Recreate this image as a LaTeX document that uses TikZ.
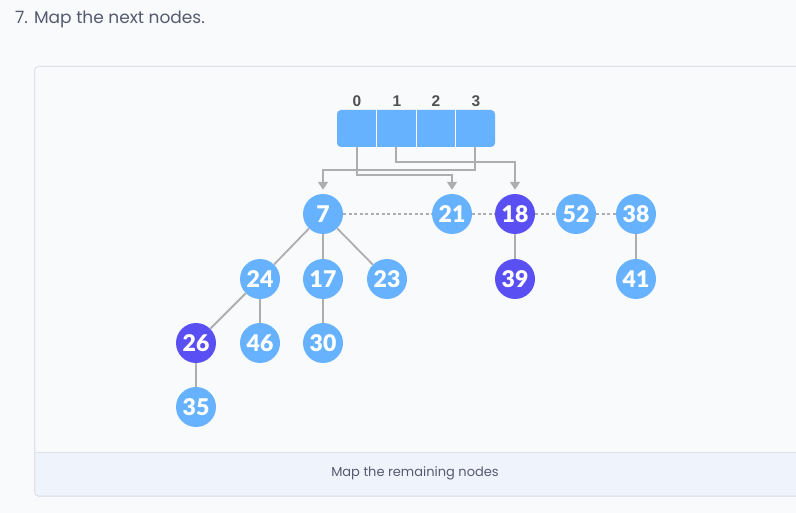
\documentclass[tikz,border=0pt]{standalone}
\usepackage{fontspec}
\setmainfont{Lato}
\newfontfamily\numfont{Lato Black}
\newfontfamily\uifont{Poppins}
\newfontfamily\arrfont{Liberation Sans}
\usetikzlibrary{arrows.meta}
\definecolor{pagebg}{HTML}{F9FAFC}
\definecolor{cardline}{HTML}{DDE2E9}
\definecolor{footbg}{HTML}{EFF4FC}
\definecolor{lightnode}{HTML}{66B2FF}
\definecolor{darknode}{HTML}{5A4FF3}
\definecolor{edgegray}{HTML}{AEAEAE}
\definecolor{titlegray}{HTML}{555A6E}
\definecolor{idxgray}{HTML}{505050}
\tikzset{
  heapnode/.style={circle, fill=lightnode, minimum size=40pt, inner sep=0pt,
    text=white, font=\numfont\fontsize{23}{23}\selectfont},
  darkheap/.style={heapnode, fill=darknode},
  cellbox/.style={rectangle, minimum width=39.5pt, minimum height=37pt, inner sep=0pt},
  idxlabel/.style={font=\arrfont\fontsize{15.5}{15.5}\selectfont\bfseries, text=idxgray, inner sep=0pt},
  treeedge/.style={draw=edgegray, line width=1.8pt},
  rootlink/.style={draw=edgegray, line width=1.5pt, dash pattern=on 3pt off 2.5pt},
  ptr/.style={draw=edgegray, line width=2pt, -{Triangle[length=8pt,width=10pt]}, shorten >=4pt},
}
\begin{document}
\begin{tikzpicture}[x=1pt,y=-1pt]
\useasboundingbox (0,0) rectangle (796,513);
\clip (0,0) rectangle (796,513);
\fill[pagebg] (0,0) rectangle (796,513);
% title
\node[anchor=west, inner sep=0pt, text=titlegray, font=\uifont\fontsize{17}{17}\selectfont] (title) at (15,19) {7. Map the next nodes.};
% card
\filldraw[fill=pagebg, draw=cardline, line width=1pt, rounded corners=4pt] (34.5,66.5) rectangle (830,496);
\begin{scope}
\clip[rounded corners=4pt] (34.5,66.5) rectangle (830,496);
\fill[footbg] (34.5,452) rectangle (830,496);
\end{scope}
\draw[cardline, line width=1pt] (34.5,452) -- (830,452);
\draw[cardline, line width=1pt, rounded corners=4pt] (34.5,440) -- (34.5,496) -- (830,496);
\node[inner sep=0pt, text=titlegray, font=\uifont\fontsize{13}{13}\selectfont] (caption) at (415,473) {Map the remaining nodes};
% array
\fill[lightnode, rounded corners=4pt] (337,110) rectangle (495,147);
\node[cellbox] (c0) at (356.75,128.5) {};
\node[cellbox] (c1) at (396.25,128.5) {};
\node[cellbox] (c2) at (435.75,128.5) {};
\node[cellbox] (c3) at (475.25,128.5) {};
\draw[white, line width=1.2pt] (c0.north east) -- (c0.south east);
\draw[white, line width=1.2pt] (c1.north east) -- (c1.south east);
\draw[white, line width=1.2pt] (c2.north east) -- (c2.south east);
\node[idxlabel] (i0) at (357,101) {0};
\node[idxlabel] (i1) at (397,101) {1};
\node[idxlabel] (i2) at (436,101) {2};
\node[idxlabel] (i3) at (476,101) {3};
% heap nodes
\node[heapnode] (n7) at (323,214) {7};
\node[heapnode] (n21) at (452,214) {21};
\node[darkheap] (n18) at (515,214) {18};
\node[heapnode] (n52) at (576,214) {52};
\node[heapnode] (n38) at (636,214) {38};
\node[heapnode] (n24) at (260,279) {24};
\node[heapnode] (n17) at (323,279) {17};
\node[heapnode] (n23) at (387,279) {23};
\node[darkheap] (n39) at (515,279) {39};
\node[heapnode] (n41) at (636,279) {41};
\node[darkheap] (n26) at (196,343) {26};
\node[heapnode] (n46) at (260,343) {46};
\node[heapnode] (n30) at (323,343) {30};
\node[heapnode] (n35) at (196,407) {35};
% root list
\draw[rootlink] (n7) -- (n21);
\draw[rootlink] (n21) -- (n18);
\draw[rootlink] (n18) -- (n52);
\draw[rootlink] (n52) -- (n38);
% tree edges
\draw[treeedge] (n7) -- (n24);
\draw[treeedge] (n7) -- (n17);
\draw[treeedge] (n7) -- (n23);
\draw[treeedge] (n24) -- (n26);
\draw[treeedge] (n24) -- (n46);
\draw[treeedge] (n17) -- (n30);
\draw[treeedge] (n26) -- (n35);
\draw[treeedge] (n18) -- (n39);
\draw[treeedge] (n38) -- (n41);
% pointers
\draw[ptr] (c3.south) -- (c3.south |- 0,170) -| (n7);
\draw[ptr] (c0.south) -- (c0.south |- 0,175) -| (n21);
\draw[ptr] (c1.south) -- (c1.south |- 0,162) -| (n18);
\end{tikzpicture}
\end{document}
